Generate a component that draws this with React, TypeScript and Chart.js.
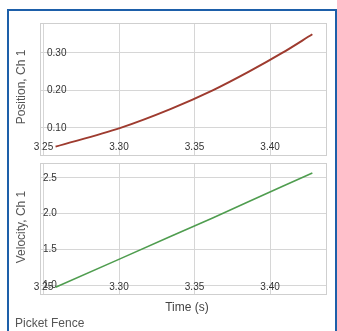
import React, { useEffect, useRef } from "react";
import { Chart, registerables } from "chart.js";

Chart.register(...registerables);

// Data (Picket Fence run)
const times = [3.258, 3.301, 3.334, 3.362, 3.386, 3.408, 3.428];
const positions = [0.05, 0.1, 0.15, 0.2, 0.25, 0.3, 0.35];
const velocities = [0.97, 1.37, 1.68, 1.94, 2.17, 2.38, 2.57];

const timeTicks = [3.25, 3.3, 3.35, 3.4];
const positionTicks = [0.1, 0.2, 0.3];
const velocityTicks = [1.0, 1.5, 2.0, 2.5];

const timeMin = 3.2477;
const timeMax = 3.4377;
const positionMin = 0.025;
const positionMax = 0.38;
const velocityMin = 0.86;
const velocityMax = 2.71;

const FONT = "Arial, 'Liberation Sans', sans-serif";

const borderPlugin = {
  id: "plotBorder",
  afterDraw(chart: any) {
    const { ctx, chartArea } = chart;
    ctx.save();
    ctx.strokeStyle = "#cfcfcf";
    ctx.lineWidth = 1;
    ctx.strokeRect(
      Math.round(chartArea.left) + 0.5,
      Math.round(chartArea.top) + 0.5,
      Math.round(chartArea.right - chartArea.left) - 1,
      Math.round(chartArea.bottom - chartArea.top) - 1
    );
    ctx.restore();
  },
};

function makeOptions(
  yMin: number,
  yMax: number,
  yTicks: number[],
  yDigits: number,
  yPad: number,
  xPad: number,
  padding: any
) {
  return {
    animation: false,
    responsive: false,
    maintainAspectRatio: false,
    layout: { padding },
    plugins: { legend: { display: false }, tooltip: { enabled: false } },
    scales: {
      x: {
        type: "linear",
        min: timeMin,
        max: timeMax,
        afterBuildTicks: (s: any) => {
          s.ticks = timeTicks.map((v) => ({ value: v }));
        },
        afterFit: (s: any) => {
          s.height = 0;
          s.paddingLeft = 0;
          s.paddingRight = 0;
          s.paddingTop = 0;
          s.paddingBottom = 0;
        },
        border: { display: false },
        grid: { color: "#d6d6d6", drawTicks: false, lineWidth: 1 },
        ticks: {
          mirror: true,
          padding: xPad,
          autoSkip: false,
          maxRotation: 0,
          color: "#333",
          font: { family: FONT, size: 10 },
          callback: (v: any) => Number(v).toFixed(2),
        },
      },
      y: {
        type: "linear",
        min: yMin,
        max: yMax,
        afterBuildTicks: (s: any) => {
          s.ticks = yTicks.map((v) => ({ value: v }));
        },
        afterFit: (s: any) => {
          s.width = 0;
          s.paddingLeft = 0;
          s.paddingRight = 0;
          s.paddingTop = 0;
          s.paddingBottom = 0;
        },
        border: { display: false },
        grid: { color: "#d6d6d6", drawTicks: false, lineWidth: 1 },
        ticks: {
          mirror: true,
          padding: yPad,
          autoSkip: false,
          color: "#333",
          font: { family: FONT, size: 10 },
          callback: (v: any) => Number(v).toFixed(yDigits),
        },
      },
    },
  } as any;
}

export default function App() {
  const topRef = useRef<HTMLCanvasElement>(null);
  const botRef = useRef<HTMLCanvasElement>(null);

  useEffect(() => {
    const top = new Chart(topRef.current as HTMLCanvasElement, {
      type: "line",
      data: {
        datasets: [
          {
            data: times.map((t, i) => ({ x: t, y: positions[i] })),
            borderColor: "#9e3b2f",
            borderWidth: 2,
            pointRadius: 0,
            cubicInterpolationMode: "monotone",
            fill: false,
          },
        ],
      },
      options: makeOptions(positionMin, positionMax, positionTicks, 2, 7, 3, {
        left: 40,
        top: 23,
        right: 10,
        bottom: 4,
      }),
      plugins: [borderPlugin],
    } as any);
    const bot = new Chart(botRef.current as HTMLCanvasElement, {
      type: "line",
      data: {
        datasets: [
          {
            data: times.map((t, i) => ({ x: t, y: velocities[i] })),
            borderColor: "#4f9d4f",
            borderWidth: 1.6,
            pointRadius: 0,
            tension: 0,
            fill: false,
          },
        ],
      },
      options: makeOptions(velocityMin, velocityMax, velocityTicks, 1, 3, 2, {
        left: 40,
        top: 5,
        right: 10,
        bottom: 8,
      }),
      plugins: [borderPlugin],
    } as any);
    return () => {
      top.destroy();
      bot.destroy();
    };
  }, []);

  const rotated = (text: string, cx: number, cy: number) => (
    <div
      style={{
        position: "absolute",
        left: cx,
        top: cy,
        transform: "translate(-50%, -50%) rotate(-90deg)",
        whiteSpace: "nowrap",
        font: `12px ${FONT}`,
        color: "#555",
        lineHeight: "14px",
      }}
    >
      {text}
    </div>
  );

  return (
    <div
      style={{
        position: "absolute",
        left: 0,
        top: 0,
        width: 337,
        height: 331,
        overflow: "hidden",
        background: "#fff",
      }}
    >
      <div
        style={{
          position: "absolute",
          left: 7,
          top: 9,
          width: 326,
          height: 400,
          border: "2px solid #1d5fa9",
          background: "#fff",
        }}
      />
      <canvas
        ref={topRef}
        width={337}
        height={160}
        style={{ position: "absolute", left: 0, top: 0, width: 337, height: 160 }}
      />
      <canvas
        ref={botRef}
        width={337}
        height={145}
        style={{ position: "absolute", left: 0, top: 158, width: 337, height: 145 }}
      />
      {rotated("Position, Ch 1", 21, 87)}
      {rotated("Velocity, Ch 1", 21, 227)}
      <div
        style={{
          position: "absolute",
          left: 187,
          top: 307,
          transform: "translate(-50%, -50%)",
          whiteSpace: "nowrap",
          font: `12px ${FONT}`,
          color: "#444",
        }}
      >
        Time (s)
      </div>
      <div
        style={{
          position: "absolute",
          left: 15,
          top: 323,
          transform: "translate(0, -50%)",
          whiteSpace: "nowrap",
          font: `12px ${FONT}`,
          color: "#555",
        }}
      >
        Picket Fence
      </div>
    </div>
  );
}
